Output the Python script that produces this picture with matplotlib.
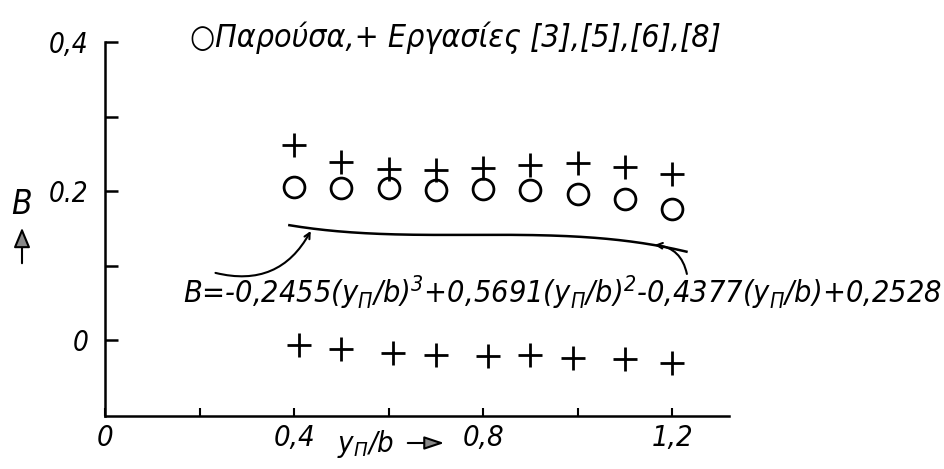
import numpy as np
import matplotlib
matplotlib.use("Agg")
import matplotlib.pyplot as plt
from matplotlib import font_manager as fm
from matplotlib.patches import FancyArrowPatch

# narrow hand-lettering look: use a condensed face when one is installed
have_condensed = any(f.name == 'DejaVu Sans' and f.stretch == 'condensed'
                     for f in fm.fontManager.ttflist)
plt.rcParams['font.family'] = ['DejaVu Sans']
plt.rcParams['font.style'] = 'italic'
plt.rcParams['font.stretch'] = 'condensed'
plt.rcParams['mathtext.fontset'] = 'custom'
plt.rcParams['mathtext.rm'] = 'DejaVu Sans:style=italic:stretch=condensed'
plt.rcParams['mathtext.it'] = 'DejaVu Sans:style=italic:stretch=condensed'
SCALE = 1.0 if have_condensed else 0.85

# y_n/b positions of the measurement stations
x_present = [0.4, 0.5, 0.6, 0.7, 0.8, 0.9, 1.0, 1.1, 1.2]
B_present = [0.205, 0.204, 0.204, 0.201, 0.203, 0.201, 0.196, 0.189, 0.176]

# values from works [3], [5], [6], [8]
x_refs_upper = [0.4, 0.5, 0.6, 0.7, 0.8, 0.9, 1.0, 1.1, 1.2]
B_refs_upper = [0.262, 0.239, 0.230, 0.228, 0.231, 0.235, 0.238, 0.232, 0.223]
x_refs_lower = [0.41, 0.50, 0.61, 0.70, 0.81, 0.90, 0.99, 1.10, 1.20]
B_refs_lower = [-0.007, -0.012, -0.017, -0.020, -0.021, -0.020, -0.024, -0.026, -0.031]

# cubic fit B(y_n/b), highest power first
fit_coeffs = [-0.2455, 0.5691, -0.4377, 0.2528]
fit_range = (0.39, 1.23)

x_ticks = [0.0, 0.2, 0.4, 0.6, 0.8, 1.0, 1.2]
x_tick_txt = ['0', '', '0,4', '', '0,8', '', '1,2']
y_ticks = [0.0, 0.1, 0.2, 0.3, 0.4]
y_tick_txt = ['0', '', '0.2', '', '0,4']

W, H = 944, 469
fig = plt.figure(figsize=(W / 100, H / 100), dpi=100)
ax = fig.add_axes([105 / W, 1 - 416 / H, 624 / W, (416 - 42) / H])
ax.set_xlim(0, 1.32)
ax.set_ylim(-0.102, 0.40)

for side in ('top', 'right'):
    ax.spines[side].set_visible(False)
for side in ('left', 'bottom'):
    ax.spines[side].set_linewidth(1.8)

poly = np.poly1d(fit_coeffs)
xf = np.linspace(*fit_range, 200)
ax.plot(xf, poly(xf), color='black', lw=1.8)

ax.plot(x_present, B_present, 'o', ms=15, mfc='none', mec='black', mew=2.0)
ax.plot(x_refs_upper, B_refs_upper, '+', ms=17, mec='black', mew=2.0)
ax.plot(x_refs_lower, B_refs_lower, '+', ms=17, mec='black', mew=2.0)

ax.set_yticks(y_ticks)
ax.set_yticklabels(y_tick_txt)
ax.set_xticks(x_ticks)
ax.set_xticklabels(x_tick_txt)
ax.tick_params(axis='y', direction='in', length=9, width=1.8, pad=12,
               labelsize=20 * SCALE)
ax.tick_params(axis='x', direction='in', length=6, width=1.5, pad=6,
               labelsize=21 * SCALE)

# equation of the fitted curve
eq = (r"B=-0,2455(y$_{Π}$/b)$^{3}$+0,5691(y$_{Π}$/b)$^{2}$"
      r"-0,4377(y$_{Π}$/b)+0,2528")
fig.text(183 / W, 1 - 303 / H, eq, fontsize=22 * SCALE, ha='left',
         va='baseline')

# pointers from the equation to the curve
ax.annotate('', xy=(0.438, poly(0.438)), xytext=(0.228, 0.091),
            arrowprops=dict(arrowstyle='->', lw=1.5, color='black',
                            connectionstyle='arc3,rad=0.4'))
ax.annotate('', xy=(1.157, poly(1.157)), xytext=(1.232, 0.085),
            arrowprops=dict(arrowstyle='->', lw=1.5, color='black',
                            connectionstyle='arc3,rad=0.4'))

# legend line above the plot
fig.text(190 / W, 1 - 47 / H, "○Παρούσα,+ Εργασίες [3],[5],[6],[8]",
         fontsize=23 * SCALE, ha='left', va='baseline')

# axis names with arrows
fig.text(22 / W, 1 - 204 / H, "B", fontsize=24, ha='center', va='center')
fig.patches.append(FancyArrowPatch(
    (22 / W, 1 - 266 / H), (22 / W, 1 - 225 / H), transform=fig.transFigure,
    arrowstyle='-|>,head_length=12,head_width=5', lw=1.5, color='black',
    fc='#888888'))
fig.text(337 / W, 1 - 452 / H, "y$_{Π}$/b", fontsize=21 * SCALE, ha='left',
         va='baseline')
fig.patches.append(FancyArrowPatch(
    (405 / W, 1 - 443 / H), (447 / W, 1 - 443 / H), transform=fig.transFigure,
    arrowstyle='-|>,head_length=12,head_width=4', lw=1.5, color='black',
    fc='#888888'))

fig.savefig('out.png', dpi=100)
